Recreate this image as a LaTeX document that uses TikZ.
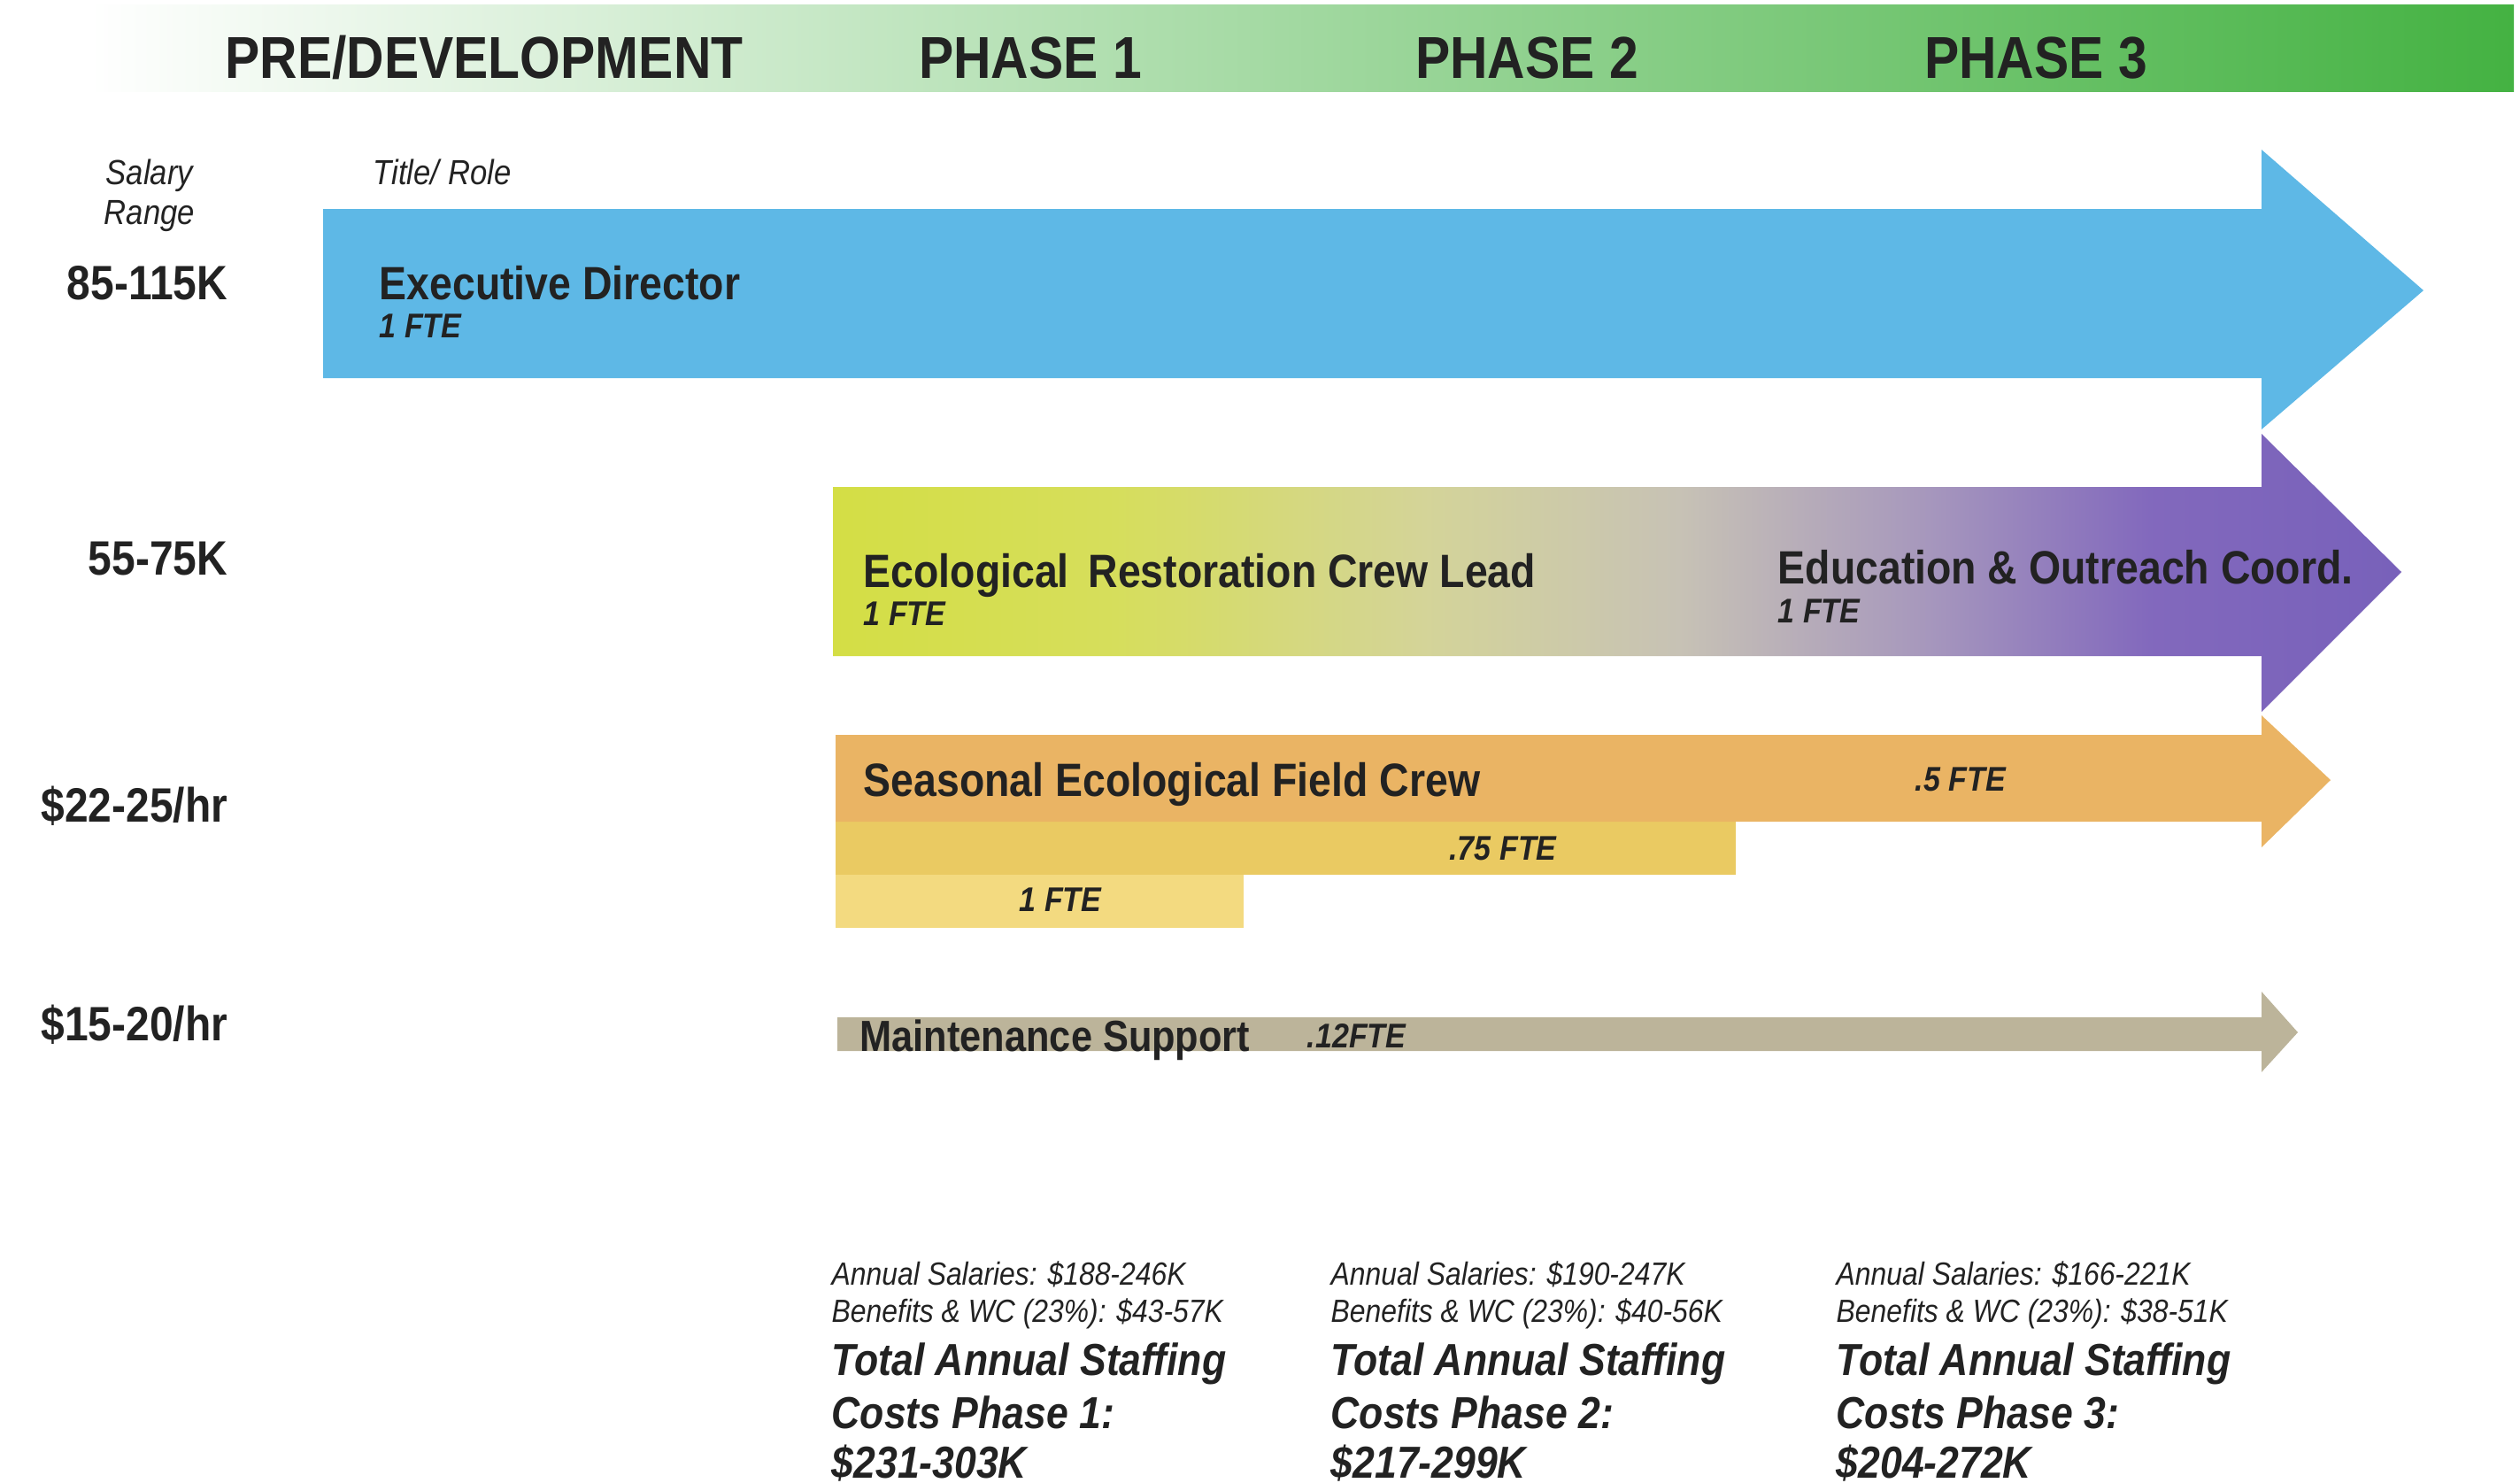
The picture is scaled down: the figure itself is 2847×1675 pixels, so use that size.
\documentclass[tikz,border=0pt]{standalone}
\usepackage{fontspec}
\setmainfont{Liberation Sans}[FakeStretch=0.88]
\usetikzlibrary{positioning}
\definecolor{ink}{RGB}{34,34,34}
\definecolor{bangreen}{RGB}{68,178,66}
\definecolor{banmid}{RGB}{168,216,142}
\definecolor{edblue}{RGB}{94,184,230}
\definecolor{crewhalf}{RGB}{234,180,100}
\definecolor{crewthree}{RGB}{234,202,98}
\definecolor{crewone}{RGB}{243,218,128}
\definecolor{maint}{RGB}{188,180,154}
\pgfdeclarehorizontalshading{ecoshade}{100bp}{
  rgb(0bp)=(0.83,0.87,0.27); rgb(25bp)=(0.83,0.87,0.27);
  rgb(34bp)=(0.84,0.87,0.36); rgb(44bp)=(0.83,0.83,0.60);
  rgb(52bp)=(0.78,0.76,0.71); rgb(60bp)=(0.65,0.59,0.74);
  rgb(67bp)=(0.51,0.41,0.74); rgb(75bp)=(0.47,0.38,0.73);
  rgb(100bp)=(0.47,0.38,0.73)}

\begin{document}
\begin{tikzpicture}[x=0.01cm, y=-0.01cm,
  phase/.style={font=\bfseries\fontsize{19}{22}\selectfont, text=ink, anchor=base, inner sep=0pt},
  pay/.style={font=\bfseries\fontsize{15.5}{18}\selectfont, text=ink, anchor=base east, inner sep=0pt},
  colhead/.style={font=\itshape\fontsize{11.2}{13}\selectfont, text=ink, anchor=base, inner sep=0pt},
  role/.style={font=\bfseries\fontsize{15}{18}\selectfont, text=ink, anchor=base west, inner sep=0pt},
  fte/.style={font=\bfseries\itshape\fontsize{11}{13}\selectfont, text=ink, inner sep=0pt},
  cost/.style={font=\itshape\fontsize{10.3}{12}\selectfont, text=ink, anchor=base west, inner sep=0pt},
  total/.style={font=\bfseries\itshape\fontsize{14.4}{17}\selectfont, text=ink, anchor=base west, inner sep=0pt}]

  \useasboundingbox (0,0) rectangle (2847,1675);

  \shade[left color=white, middle color=banmid, right color=bangreen] (100,5) rectangle (2840,103);

  \fill[edblue] (365,236) -- (2555,236) -- (2555,169) -- (2738,328) -- (2555,485) -- (2555,427) -- (365,427) -- cycle;
  \shade[shading=ecoshade]
    (941,550) -- (2555,550) -- (2555,490) -- (2713,646) -- (2555,804) -- (2555,741) -- (941,741) -- cycle;
  \fill[crewone] (944,980) rectangle (1405,1048);
  \fill[crewthree] (944,922) rectangle (1961,988);
  \fill[crewhalf] (944,830) -- (2555,830) -- (2555,808) -- (2633,881) -- (2555,957) -- (2555,928) -- (944,928) -- cycle;
  \fill[maint] (946,1149) -- (2555,1149) -- (2555,1120) -- (2596,1166) -- (2555,1211) -- (2555,1187) -- (946,1187) -- cycle;

  \node[phase] (pre) at (547,88) {PRE/DEVELOPMENT};
  \node[phase] (ph1) at (1164,88) {PHASE 1};
  \node[phase] (ph2) at (1725,88) {PHASE 2};
  \node[phase] (ph3) at (2300,88) {PHASE 3};

  \node[colhead] (salary) at (169,208) {Salary};
  \node[colhead] (range)  at (169,253) {Range};
  \node[colhead, anchor=base west] (title) at (421,208) {Title/ Role};

  \node[pay] (payed)   at (258,338)  {85-115K};
  \node[pay] (paylead) at (258,649)  {55-75K};
  \node[pay] (paycrew) at (258,928)  {\$22-25/hr};
  \node[pay] (paymnt)  at (258,1175) {\$15-20/hr};

  \node[role] (edname) at (428,338) {Executive Director};
  \node[fte, below right=4.5pt and 0pt of edname.base west] (edfte) {1 FTE};
  \node[role] (leadname) at (975,663) {Ecological\, Restoration Crew Lead};
  \node[fte, below right=4.5pt and 0pt of leadname.base west] (leadfte) {1 FTE};
  \node[role] (eduname) at (2008,659) {Education \& Outreach Coord.};
  \node[fte, below right=5pt and 0pt of eduname.base west] (edufte) {1 FTE};

  \node[role] (crewname) at (975,899) {Seasonal Ecological Field Crew};
  \node[fte, anchor=base] (crewhalf) at (2215,893) {.5 FTE};
  \node[fte, anchor=base] (crewthree) at (1698,971) {.75 FTE};
  \node[fte, anchor=base] (crewone) at (1198,1029) {1 FTE};

  \node[role, font=\bfseries\fontsize{14}{17}\selectfont] (mntname) at (971,1187) {Maintenance Support};
  \node[fte, anchor=base west] (mntfte) at (1476,1183) {.12FTE};

  \foreach \x/\sal/\ben/\ph/\tot [count=\i] in {939/188-246K/43-57K/1/231-303K,
      1503/190-247K/40-56K/2/217-299K, 2074/166-221K/38-51K/3/204-272K} {
    \node[cost] (sal\i) at (\x,1451) {Annual Salaries: \$\sal};
    \node[cost] (ben\i) at (\x,1493) {Benefits \& WC (23\%): \$\ben};
    \node[total] (tot\i) at (\x,1553) {Total Annual Staffing};
    \node[total] (cph\i) at (\x,1613) {Costs Phase \ph:};
    \node[total] (sum\i) at (\x,1669) {\$\tot};
  }
\end{tikzpicture}
\end{document}
